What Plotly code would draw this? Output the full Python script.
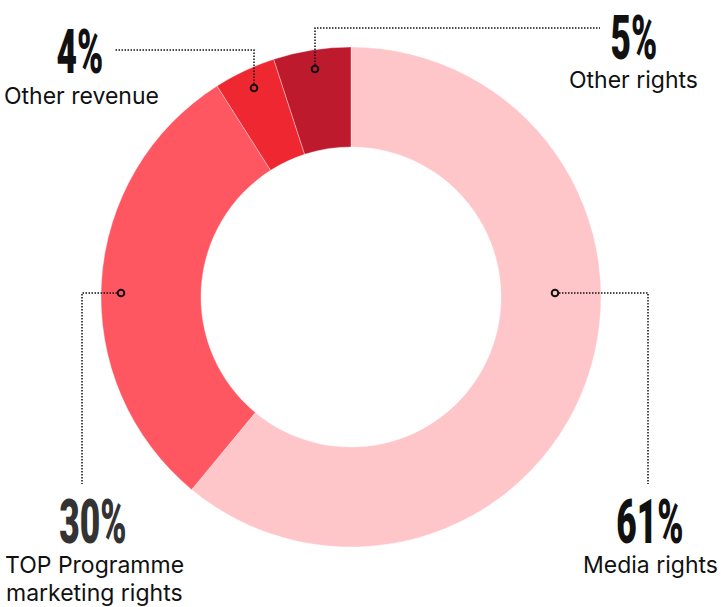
import plotly.graph_objects as go

# ---- data ----
categories = ["Media rights", "TOP Programme<br>marketing rights", "Other revenue", "Other rights"]
values = [61, 30, 4, 5]
pct_labels = ["61%", "30%", "4%", "5%"]
colors = ["#FFC6CA", "#FF5762", "#EF2730", "#BE1A2D"]

W, H = 721, 607

# ---- layout constants (pixel positions) ----
cx, cy, R = 351, 297, 250
anchors = [(555, 293), (121, 293), (254, 88), (315, 69)]
leader_paths = [
    [(559, 293), (648, 293), (648, 484)],
    [(117, 293), (82, 293), (82, 484)],
    [(254, 84), (254, 50), (115, 50)],
    [(315, 65), (315, 28), (600, 28)],
]
pct_pos = [(650, 521), (93, 521), (80, 51), (634, 37)]
name_lines = [
    [("Media rights", 650, 565)],
    [("TOP Programme", 94, 565), ("marketing rights", 94, 593)],
    [("Other revenue", 81, 96)],
    [("Other rights", 633, 80)],
]
pct_colors = ["#111111", "#333333", "#111111", "#111111"]

fig = go.Figure()
fig.add_trace(go.Pie(
    labels=categories, values=values, sort=False, direction="clockwise",
    rotation=0, hole=0.6, textinfo="none", hoverinfo="label+percent",
    marker=dict(colors=colors, line=dict(color="rgba(255,255,255,0.6)", width=0.6)),
    domain=dict(x=[(cx - R) / W, (cx + R) / W], y=[1 - (cy + R) / H, 1 - (cy - R) / H]),
    showlegend=False,
))

shapes = []
for path in leader_paths:
    d = "M " + " L ".join(f"{x},{y}" for x, y in path)
    shapes.append(dict(type="path", path=d, xref="x", yref="y", layer="above",
                       line=dict(color="#111111", width=1.5, dash="1.5px,1.5px")))
for ax, ay in anchors:
    shapes.append(dict(type="circle", xref="x", yref="y", layer="above",
                       x0=ax - 3.3, x1=ax + 3.3, y0=ay - 3.3, y1=ay + 3.3,
                       line=dict(color="#111111", width=2), fillcolor="rgba(0,0,0,0)"))

annotations = []
for (x, y), t, c in zip(pct_pos, pct_labels, pct_colors):
    annotations.append(dict(x=x, y=y, xref="x", yref="y", text=t, showarrow=False,
                            xanchor="center", yanchor="middle",
                            font=dict(family="Roboto, sans-serif",
                                      size=62, color=c, weight=900)))
for lines in name_lines:
    for t, x, y in lines:
        annotations.append(dict(x=x, y=y, xref="x", yref="y", text=t, showarrow=False,
                                xanchor="center", yanchor="middle",
                                font=dict(family="Inter, Roboto, sans-serif", size=23, color="#111111")))

fig.update_layout(
    width=W, height=H, margin=dict(l=0, r=0, t=0, b=0),
    paper_bgcolor="white", plot_bgcolor="rgba(0,0,0,0)",
    xaxis=dict(range=[0, W], visible=False, domain=[0, 1], fixedrange=True),
    yaxis=dict(range=[H, 0], visible=False, domain=[0, 1], fixedrange=True),
    shapes=shapes, annotations=annotations,
)

post = """
document.body.style.margin = '0';
document.body.style.overflow = 'hidden';
document.querySelectorAll('.annotation-text').forEach(function (t) {
  if (t.textContent.indexOf('%') >= 0) {
    t.style.transformBox = 'fill-box';
    t.style.transformOrigin = 'center';
    t.style.transform = 'scaleX(0.57)';
  }
});
"""
fig.write_html("out.html", post_script=post, config={"displayModeBar": False})
